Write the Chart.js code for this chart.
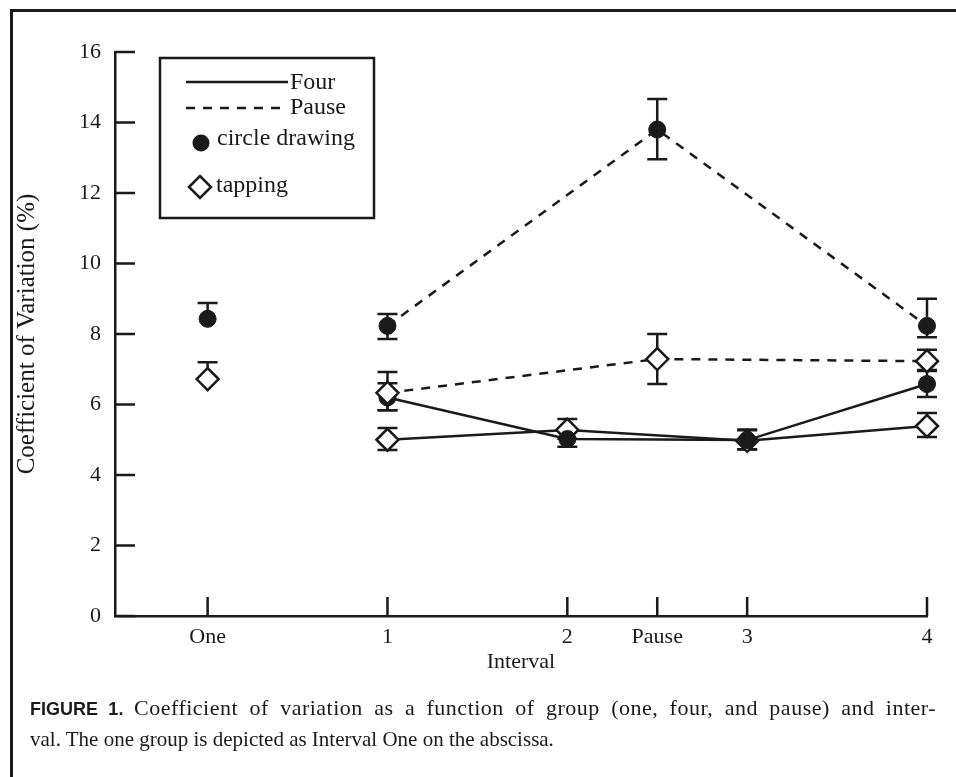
<!DOCTYPE html>
<html>
<head>
<meta charset="utf-8">
<script src="https://cdn.jsdelivr.net/npm/chart.js@4.4.1/dist/chart.umd.min.js"></script>
<style>
    body { margin: 0; background: #fff; }
    #wrap { position: relative; width: 956px; height: 777px; overflow: hidden; }
    #frame {
        position: absolute; left: 10px; top: 9px; width: 1000px; height: 1000px;
        border-left: 3px solid #1a1a1a; border-top: 3px solid #1a1a1a;
    }
    #caption {
        position: absolute; left: 30px; top: 693px; width: 906px;
        font-family: "Liberation Serif", serif; font-size: 21px; line-height: 30px; color: #1a1a1a;
    }
    #caption .full { text-align: justify; text-align-last: justify; }
    #caption .wide { font-size: 22px; letter-spacing: 0.5px; }
    #caption b { font-family: "Liberation Sans", sans-serif; font-size: 18px; }
</style>
</head>
<body>
<div id="wrap">
    <canvas id="myChart" width="956" height="777"></canvas>
    <div id="frame"></div>
    <div id="caption">
        <div class="full"><b>FIGURE 1.</b> <span class="wide">Coefficient of variation as a function of group (one, four, and pause) and inter-</span></div>
        <div>val. The one group is depicted as Interval One on the abscissa.</div>
    </div>
</div>
<script>
// x positions and labels of the interval axis
const xTickPos = [0, 2, 4, 5, 6, 8];
const xTickLabels = ['One', '1', '2', 'Pause', '3', '4'];

// One group (interval "One")
const oneX = [0];
const oneCircle = [8.43];
const oneCircleUp = [0.45];
const oneCircleDown = [0];
const oneTap = [6.72];
const oneTapUp = [0.48];
const oneTapDown = [0];

// Four group (intervals 1-4)
const fourX = [2, 4, 6, 8];
const fourCircle = [6.2, 5.02, 4.99, 6.58];
const fourCircleUp = [0.4, 0.25, 0.3, 0.37];
const fourCircleDown = [0.36, 0.22, 0.26, 0.37];
const fourTap = [5.0, 5.28, 4.97, 5.39];
const fourTapUp = [0.33, 0.31, 0.3, 0.37];
const fourTapDown = [0.29, 0.25, 0.25, 0.31];

// Pause group (intervals 1, pause, 4)
const pauseX = [2, 5, 8];
const pauseCircle = [8.23, 13.8, 8.23];
const pauseCircleUp = [0.34, 0.87, 0.77];
const pauseCircleDown = [0.37, 0.84, 0.32];
const pauseTap = [6.33, 7.29, 7.23];
const pauseTapUp = [0.59, 0.71, 0.32];
const pauseTapDown = [0.49, 0.71, 0.25];

const ink = '#1a1a1a';
const serif = '"Liberation Serif", "Times New Roman", serif';

const toPoints = (xs, ys) => xs.map((x, i) => ({ x: x, y: ys[i] }));

const circleStyle = {
    pointStyle: 'circle', pointRadius: 8.5, pointBackgroundColor: ink,
    pointBorderColor: ink, pointBorderWidth: 1,
};
const diamondStyle = {
    pointStyle: 'rectRot', pointRadius: 11, pointBackgroundColor: '#fff',
    pointBorderColor: ink, pointBorderWidth: 2.5,
};

const datasets = [
    { label: 'circle drawing (pause)', data: toPoints(pauseX, pauseCircle), up: pauseCircleUp, down: pauseCircleDown,
      showLine: true, borderDash: [9, 8], ...circleStyle },
    { label: 'tapping (pause)', data: toPoints(pauseX, pauseTap), up: pauseTapUp, down: pauseTapDown,
      showLine: true, borderDash: [9, 8], ...diamondStyle },
    { label: 'circle drawing (four)', data: toPoints(fourX, fourCircle), up: fourCircleUp, down: fourCircleDown,
      showLine: true, ...circleStyle },
    { label: 'tapping (four)', data: toPoints(fourX, fourTap), up: fourTapUp, down: fourTapDown,
      showLine: true, ...diamondStyle },
    { label: 'circle drawing (one)', data: toPoints(oneX, oneCircle), up: oneCircleUp, down: oneCircleDown,
      showLine: false, ...circleStyle },
    { label: 'tapping (one)', data: toPoints(oneX, oneTap), up: oneTapUp, down: oneTapDown,
      showLine: false, ...diamondStyle },
];
datasets.forEach(ds => {
    ds.borderColor = ink;
    ds.borderWidth = 2.5;
    ds.tension = 0;
    ds.clip = false;
});

// Error bars, drawn under the markers
const errorBars = {
    id: 'errorBars',
    beforeDatasetsDraw(chart) {
        const { ctx, scales: { x, y } } = chart;
        ctx.save();
        ctx.strokeStyle = ink;
        ctx.lineWidth = 2.5;
        chart.data.datasets.forEach(ds => {
            ds.data.forEach((p, i) => {
                const px = x.getPixelForValue(p.x);
                const ends = [p.y + ds.up[i], p.y - ds.down[i]];
                ends.forEach(v => {
                    if (v === p.y) return;
                    const py = y.getPixelForValue(v);
                    ctx.beginPath();
                    ctx.moveTo(px, y.getPixelForValue(p.y));
                    ctx.lineTo(px, py);
                    ctx.moveTo(px - 10, py);
                    ctx.lineTo(px + 10, py);
                    ctx.stroke();
                });
            });
        });
        ctx.restore();
    }
};

// Inward tick marks on both axes
const innerTicks = {
    id: 'innerTicks',
    afterDraw(chart) {
        const { ctx, chartArea, scales: { x, y } } = chart;
        ctx.save();
        ctx.strokeStyle = ink;
        ctx.lineWidth = 2.5;
        ctx.beginPath();
        y.ticks.forEach(t => {
            const py = y.getPixelForValue(t.value);
            ctx.moveTo(chartArea.left, py);
            ctx.lineTo(chartArea.left + 20, py);
        });
        x.ticks.forEach(t => {
            const px = x.getPixelForValue(t.value);
            ctx.moveTo(px, chartArea.bottom);
            ctx.lineTo(px, chartArea.bottom - 19);
        });
        ctx.stroke();
        ctx.restore();
    }
};

// Boxed legend in the upper left
const boxLegend = {
    id: 'boxLegend',
    afterDraw(chart) {
        const ctx = chart.ctx;
        ctx.save();
        ctx.strokeStyle = ink;
        ctx.fillStyle = ink;
        ctx.lineWidth = 2.5;
        ctx.strokeRect(160, 58, 214, 160);
        ctx.font = '24px ' + serif;
        ctx.textBaseline = 'middle';

        ctx.beginPath();
        ctx.moveTo(186, 82);
        ctx.lineTo(288, 82);
        ctx.stroke();
        ctx.fillText('Four', 290, 83);

        ctx.setLineDash([9, 8]);
        ctx.beginPath();
        ctx.moveTo(186, 108);
        ctx.lineTo(288, 108);
        ctx.stroke();
        ctx.setLineDash([]);
        ctx.fillText('Pause', 290, 108);

        ctx.beginPath();
        ctx.arc(201, 143, 8.5, 0, Math.PI * 2);
        ctx.fill();
        ctx.fillText('circle drawing', 217, 139);

        ctx.fillStyle = '#fff';
        ctx.beginPath();
        ctx.moveTo(189, 187);
        ctx.lineTo(200, 176);
        ctx.lineTo(211, 187);
        ctx.lineTo(200, 198);
        ctx.closePath();
        ctx.fill();
        ctx.stroke();
        ctx.fillStyle = ink;
        ctx.fillText('tapping', 216, 186);
        ctx.restore();
    }
};

new Chart(document.getElementById('myChart').getContext('2d'), {
    type: 'scatter',
    data: { datasets: datasets },
    options: {
        responsive: false,
        animation: false,
        layout: { padding: { left: 0, top: 52, right: 29, bottom: 102 } },
        plugins: {
            legend: { display: false },
            tooltip: { enabled: false },
        },
        scales: {
            x: {
                type: 'linear',
                min: -1.03,
                max: 8,
                afterBuildTicks: (scale) => {
                    scale.ticks = xTickPos.map(v => ({ value: v }));
                },
                afterFit: (scale) => { scale.height = 59; },
                ticks: {
                    autoSkip: false,
                    maxRotation: 0,
                    padding: 8,
                    color: ink,
                    font: { family: serif, size: 22 },
                    callback: (value) => xTickLabels[xTickPos.indexOf(value)],
                },
                grid: { display: true, drawOnChartArea: false, drawTicks: false, color: 'rgba(0,0,0,0)' },
                border: { display: true, color: ink, width: 2.5 },
                title: {
                    display: true, text: 'Interval', color: ink,
                    font: { family: serif, size: 22 }, padding: { top: 0, bottom: 0 },
                },
            },
            y: {
                min: 0,
                max: 16,
                afterFit: (scale) => { scale.width = 115; },
                ticks: {
                    stepSize: 2,
                    padding: 14,
                    color: ink,
                    font: { family: serif, size: 22 },
                },
                grid: { display: true, drawOnChartArea: false, drawTicks: false, color: 'rgba(0,0,0,0)' },
                border: { display: true, color: ink, width: 2.5 },
                title: {
                    display: true, text: 'Coefficient of Variation (%)', color: ink,
                    font: { family: serif, size: 25 }, padding: { top: 12, bottom: 0 },
                },
            },
        },
    },
    plugins: [errorBars, innerTicks, boxLegend],
});
</script>
</body>
</html>
